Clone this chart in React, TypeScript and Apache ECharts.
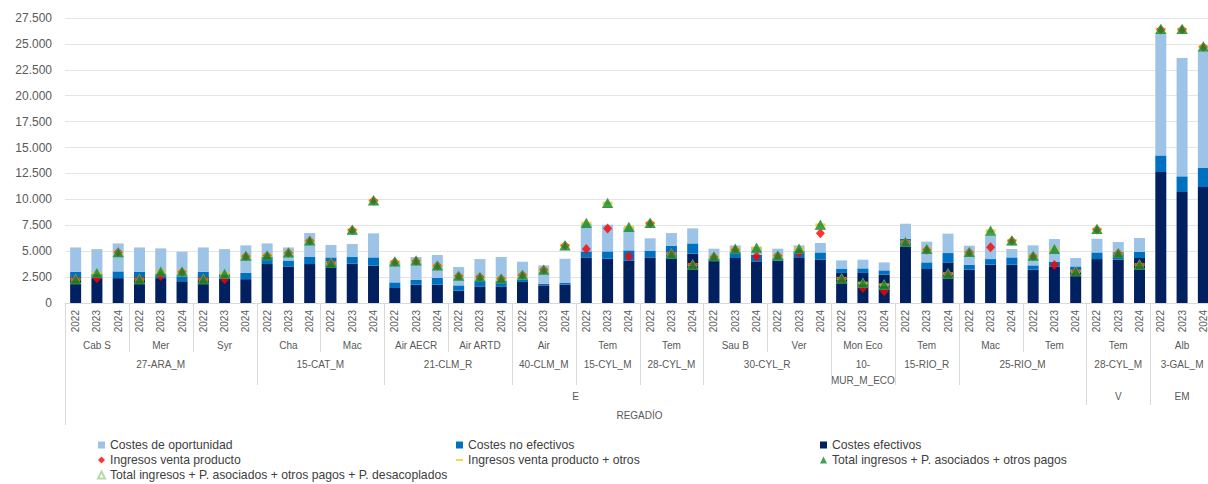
import React, { useEffect, useRef } from 'react';
import * as echarts from 'echarts';

const years = ['2022', '2023', '2024'];
const groupNames = ['Cab S', 'Mer', 'Syr', 'Cha', 'Mac', 'Air AECR', 'Air ARTD', 'Air', 'Tem', 'Tem', 'Sau B', 'Ver', 'Mon Eco', 'Tem', 'Mac', 'Tem', 'Tem', 'Alb'];
const regionNames = ['27-ARA_M', '15-CAT_M', '21-CLM_R', '40-CLM_M', '15-CYL_M', '28-CYL_M', '30-CYL_R', '10-\nMUR_M_ECO', '15-RIO_R', '25-RIO_M', '28-CYL_M', '3-GAL_M'];
const regionGroupCounts = [3, 2, 2, 1, 1, 1, 2, 1, 1, 2, 1, 1];
const systemNames = ['E', 'V', 'EM'];
const systemRegionCounts = [10, 1, 1];
const topLabel = 'REGADÍO';

const costesEfectivos = [2500, 2400, 2400, 2500, 2400, 2100, 2500, 2400, 2300, 3760, 3530, 3760, 3630, 3790, 3600, 1450, 1770, 1770, 1190, 1600, 1600, 2030, 1700, 1770, 4400, 4270, 4110, 4400, 4340, 4760, 4080, 4340, 4020, 4080, 4340, 4200, 2900, 2900, 2730, 5460, 3280, 3920, 3210, 3700, 3700, 3210, 3530, 3050, 4240, 4180, 4340, 12640, 10710, 11190];
const costesNoEfectivos = [500, 400, 650, 500, 400, 470, 500, 400, 600, 690, 570, 680, 770, 650, 800, 540, 480, 640, 510, 480, 550, 220, 160, 160, 580, 710, 970, 650, 1190, 990, 220, 560, 640, 220, 660, 680, 380, 440, 420, 740, 640, 900, 490, 540, 700, 420, 430, 480, 640, 740, 580, 1600, 1510, 1840];
const costesOportunidad = [2360, 2400, 2700, 2360, 2470, 2380, 2360, 2400, 2660, 1300, 1260, 2310, 1200, 1250, 2320, 1970, 2190, 2220, 1770, 2160, 2290, 1730, 1770, 2340, 2670, 2570, 2220, 1190, 1220, 1450, 940, 660, 740, 940, 560, 910, 830, 840, 770, 1450, 2000, 1870, 1830, 2260, 810, 1930, 2210, 810, 1320, 960, 1350, 11810, 11420, 11340];
const ingresosVenta = [2300, 2400, 4900, 2300, 2600, 3000, 2300, 2300, 4500, 4550, 4850, 6000, 3850, 7050, 9900, 3950, 4050, 3600, 2600, 2500, 2350, 2700, 3200, 5550, 5210, 7200, 4500, 7700, 4750, 3700, 4450, 5150, 4500, 4550, 4850, 6720, 2350, 1450, 1130, 5850, 5150, 2800, 4900, 5370, 6000, 4500, 3660, 3050, 7100, 4800, 3700, 26400, 26400, 24700];
const ingresosVentaOtros = [2300, 2880, 4880, 2300, 3030, 3030, 2300, 2810, 4540, 4580, 4860, 6020, 3860, 7050, 9880, 3980, 4080, 3610, 2610, 2490, 2350, 2710, 3190, 5540, 7700, 9630, 7310, 7700, 4760, 3700, 4480, 5220, 5310, 4580, 5220, 7530, 2370, 1920, 1760, 5890, 5190, 2830, 4900, 6960, 6020, 4540, 5190, 3050, 7120, 4810, 3700, 26420, 26420, 24740];
const totalIngresos = [2300, 2900, 4900, 2300, 3050, 3050, 2300, 2830, 4560, 4600, 4880, 6040, 3860, 7070, 9900, 4000, 4100, 3630, 2630, 2510, 2370, 2730, 3210, 5560, 7720, 9650, 7330, 7720, 4760, 3700, 4500, 5240, 5330, 4600, 5240, 7550, 2370, 1930, 1770, 5890, 5210, 2830, 4920, 6980, 6040, 4560, 5210, 3050, 7140, 4820, 3700, 26440, 26440, 24760];
const totalDesacoplados = [2300, 2900, 4900, 2300, 3050, 3050, 2300, 2830, 4560, 4600, 4880, 6040, 3860, 7070, 9900, 4000, 4100, 3630, 2630, 2510, 2370, 2730, 3210, 5560, 7720, 9650, 7330, 7720, 4760, 3700, 4500, 5240, 5330, 4600, 5240, 7550, 2370, 1930, 1770, 5890, 5210, 2830, 4920, 6980, 6040, 4560, 5210, 3050, 7140, 4820, 3700, 26440, 26440, 24760];

const categories = groupNames.flatMap((g, gi) => years.map((y) => `${gi}-${y}`));

const FONT = 'Liberation Sans';
const TXT = '#595959';
const SEP = '#D9D9D9';

function fmt(v: number) {
  return String(v).replace(/\B(?=(\d{3})+(?!\d))/g, '.');
}

export default function App() {
  const ref = useRef<HTMLDivElement>(null);
  useEffect(() => {
    document.body.style.margin = '0';
    const chart = echarts.init(ref.current!, undefined, { renderer: 'svg' });
    const legendText = { fontFamily: FONT, fontSize: 12.2, color: '#404040' };
    const legendBase = {
      orient: 'vertical' as const,
      top: 439,
      itemWidth: 7,
      itemHeight: 7,
      itemGap: 3,
      padding: 0,
      selectedMode: false,
      textStyle: legendText,
    };
    const option: any = {
      animation: false,
      backgroundColor: '#ffffff',
      grid: { left: 65, width: 1149, top: 18, bottom: 181, containLabel: false, outerBoundsMode: 'none' },
      legend: [
        { ...legendBase, left: 97, data: [
          { name: 'Costes de oportunidad', icon: 'rect' },
          { name: 'Ingresos venta producto', icon: 'diamond' },
          { name: 'Total ingresos + P. asociados + otros pagos + P. desacoplados', icon: 'triangle' },
        ] },
        { ...legendBase, left: 456, data: [
          { name: 'Costes no efectivos', icon: 'rect' },
          { name: 'Ingresos venta producto + otros', icon: 'path://M0,0H10V2.5H0Z' },
        ] },
        { ...legendBase, left: 820, data: [
          { name: 'Costes efectivos', icon: 'rect' },
          { name: 'Total ingresos + P. asociados + otros pagos', icon: 'triangle' },
        ] },
      ],
      xAxis: {
        type: 'category',
        data: categories,
        axisTick: { show: false },
        axisLine: { lineStyle: { color: SEP } },
        axisLabel: {
          interval: 0,
          rotate: 90,
          margin: 7,
          fontFamily: FONT,
          fontSize: 10,
          color: TXT,
          formatter: (v: string) => v.split('-')[1],
        },
      },
      yAxis: {
        type: 'value',
        min: 0,
        max: 27500,
        interval: 2500,
        axisLine: { show: false },
        axisTick: { show: false },
        splitLine: { lineStyle: { color: '#E4E4E4' } },
        axisLabel: { fontFamily: FONT, fontSize: 12, color: TXT, margin: 13, formatter: (v: number) => fmt(v) },
      },
      series: [
        { name: 'Costes efectivos', type: 'bar', stack: 'c', barWidth: 11, data: costesEfectivos, itemStyle: { color: '#002060' } },
        { name: 'Costes no efectivos', type: 'bar', stack: 'c', barWidth: 11, data: costesNoEfectivos, itemStyle: { color: '#0070C0' } },
        { name: 'Costes de oportunidad', type: 'bar', stack: 'c', barWidth: 11, data: costesOportunidad, itemStyle: { color: '#9DC3E6' } },
        { name: 'Ingresos venta producto + otros', type: 'scatter', symbol: 'rect', symbolSize: [10, 3], data: ingresosVentaOtros, itemStyle: { color: '#FFC000' } },
        { name: 'Ingresos venta producto', type: 'scatter', symbol: 'diamond', symbolSize: [9, 10], data: ingresosVenta, itemStyle: { color: '#FF0000' } },
        { name: 'Total ingresos + P. asociados + otros pagos + P. desacoplados', type: 'scatter', symbol: 'triangle', symbolSize: [10, 9], data: totalDesacoplados, itemStyle: { color: 'rgba(255,255,255,0)', borderColor: '#A9D18E', borderWidth: 1 } },
        { name: 'Total ingresos + P. asociados + otros pagos', type: 'scatter', symbol: 'triangle', symbolSize: [11, 10], data: totalIngresos, itemStyle: { color: '#0F8A2C' } },
      ],
    };
    chart.setOption(option);

    const xPix = (i: number) => chart.convertToPixel({ xAxisIndex: 0 }, i) as number;
    const step = xPix(1) - xPix(0);
    const edge = (i: number) => xPix(i) - step / 2;
    const y0 = chart.convertToPixel({ yAxisIndex: 0 }, 0) as number;
    const n = categories.length;
    const graphics: any[] = [];
    const vline = (x: number, len: number) => {
      const xx = Math.round(x) + 0.5;
      graphics.push({ type: 'line', silent: true, shape: { x1: xx, y1: y0, x2: xx, y2: y0 + len }, style: { stroke: SEP, lineWidth: 1 } });
    };
    const label = (text: string, x: number, y: number, fontSize = 10) => {
      graphics.push({ type: 'text', silent: true, x, y, style: { text, fill: TXT, fontFamily: FONT, fontSize, align: 'center', verticalAlign: 'middle', lineHeight: 16 } });
    };
    const groupStarts: number[] = [];
    groupNames.forEach((g, gi) => {
      groupStarts.push(gi * 3);
      label(g, xPix(gi * 3 + 1), y0 + 42);
    });
    const regionStarts: number[] = [];
    let gAcc = 0;
    regionNames.forEach((r, ri) => {
      const s = gAcc * 3;
      const e = (gAcc + regionGroupCounts[ri]) * 3;
      regionStarts.push(s);
      const cx = (edge(s) + edge(e)) / 2;
      if (r.includes('\n')) label(r, cx, y0 + 69);
      else label(r, cx, y0 + 61);
      gAcc += regionGroupCounts[ri];
    });
    const systemStarts: number[] = [];
    let rAcc = 0;
    systemNames.forEach((s, si) => {
      const sIdx = regionStarts[rAcc];
      const endR = rAcc + systemRegionCounts[si];
      const eIdx = endR < regionStarts.length ? regionStarts[endR] : n;
      systemStarts.push(sIdx);
      label(s, (edge(sIdx) + edge(eIdx)) / 2, y0 + 93);
      rAcc = endR;
    });
    label(topLabel, (edge(0) + edge(n)) / 2, y0 + 112);
    groupStarts.forEach((s) => {
      if (s === 0) return;
      if (systemStarts.includes(s)) vline(edge(s), 102);
      else if (regionStarts.includes(s)) vline(edge(s), 82);
      else vline(edge(s), 49);
    });
    vline(edge(0), 122);
    vline(edge(n), 122);
    chart.setOption({ graphic: graphics });

    return () => chart.dispose();
  }, []);
  return <div ref={ref} style={{ width: 1208, height: 484 }} />;
}
